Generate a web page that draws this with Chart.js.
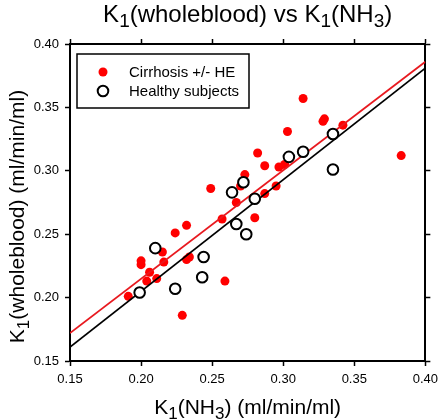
<!DOCTYPE html>
<html>
<head>
<meta charset="utf-8">
<script src="https://cdn.jsdelivr.net/npm/chart.js@4/dist/chart.umd.min.js"></script>
<style>
  html, body { margin: 0; padding: 0; background: #fff; }
</style>
</head>
<body>
<canvas id="k1Chart" width="444" height="420"></canvas>
<script>
// values
const cirrhosisX = [0.191, 0.200, 0.200, 0.206, 0.204, 0.211, 0.215, 0.216, 0.224, 0.232, 0.232,
  0.234, 0.229, 0.257, 0.259, 0.267, 0.249, 0.273, 0.270, 0.280, 0.287, 0.295, 0.287, 0.297,
  0.301, 0.282, 0.303, 0.314, 0.328, 0.329, 0.342, 0.383];
const cirrhosisY = [0.201, 0.229, 0.226, 0.220, 0.213, 0.215, 0.236, 0.228, 0.251, 0.257, 0.230,
  0.232, 0.186, 0.262, 0.213, 0.275, 0.286, 0.297, 0.288, 0.263, 0.282, 0.288, 0.304, 0.303,
  0.305, 0.314, 0.331, 0.357, 0.339, 0.341, 0.336, 0.312];

const healthyX = [0.199, 0.210, 0.224, 0.244, 0.243, 0.267, 0.274, 0.264, 0.272, 0.280, 0.304,
  0.314, 0.335, 0.335];
const healthyY = [0.204, 0.239, 0.207, 0.232, 0.216, 0.258, 0.250, 0.283, 0.291, 0.278, 0.311,
  0.315, 0.329, 0.301];

// regression lines (end points at the axis limits)
const cirrhosisFitX = [0.15, 0.40];
const cirrhosisFitY = [0.172, 0.386];
const healthyFitX = [0.15, 0.40];
const healthyFitY = [0.161, 0.381];

const xTicks = [0.15, 0.20, 0.25, 0.30, 0.35, 0.40];
const yTicks = [0.15, 0.20, 0.25, 0.30, 0.35, 0.40];

const legendLabels = ["Cirrhosis +/- HE", "Healthy subjects"];

const toPoints = (xs, ys) => xs.map((x, i) => ({ x: x, y: ys[i] }));

const FONT = "Arial, 'Liberation Sans', Helvetica, sans-serif";
const RED = '#ff0000';

// draws text like K1(NH3) with smaller lowered digits
const drawRich = (ctx, parts, size) => {
  const subSize = Math.round(size * 0.8);
  let total = 0;
  parts.forEach(p => {
    ctx.font = (p.sub ? subSize : size) + 'px ' + FONT;
    total += ctx.measureText(p.t).width;
  });
  let x = -total / 2;
  parts.forEach(p => {
    ctx.font = (p.sub ? subSize : size) + 'px ' + FONT;
    ctx.fillText(p.t, x, p.sub ? size * 0.22 : 0);
    x += ctx.measureText(p.t).width;
  });
};

const titlePlugin = {
  id: 'richTitles',
  afterDraw(chart) {
    const ctx = chart.ctx;
    const area = chart.chartArea;
    const cx = (area.left + area.right) / 2;
    const cy = (area.top + area.bottom) / 2;
    ctx.save();
    ctx.fillStyle = '#000';
    ctx.textBaseline = 'alphabetic';
    ctx.textAlign = 'left';

    ctx.save();
    ctx.translate(cx, 22);
    drawRich(ctx, [{ t: 'K' }, { t: '1', sub: true }, { t: '(wholeblood) vs K' }, { t: '1', sub: true },
      { t: '(NH' }, { t: '3', sub: true }, { t: ')' }], 24);
    ctx.restore();

    ctx.save();
    ctx.translate(cx, 414);
    drawRich(ctx, [{ t: 'K' }, { t: '1', sub: true }, { t: '(NH' }, { t: '3', sub: true },
      { t: ') (ml/min/ml)' }], 21);
    ctx.restore();

    ctx.save();
    ctx.translate(24, cy + 14);
    ctx.rotate(-Math.PI / 2);
    drawRich(ctx, [{ t: 'K' }, { t: '1', sub: true }, { t: '(wholeblood) (ml/min/ml)' }], 21);
    ctx.restore();

    ctx.restore();
  }
};

const legendPlugin = {
  id: 'boxLegend',
  afterDraw(chart) {
    const ctx = chart.ctx;
    const area = chart.chartArea;
    const left = area.left + 7;
    const top = area.top + 10;
    ctx.save();
    ctx.strokeStyle = '#000';
    ctx.lineWidth = 1.5;
    ctx.strokeRect(left, top, 172, 54);
    ctx.font = '15px ' + FONT;
    ctx.textBaseline = 'middle';
    ctx.fillStyle = '#000';
    const sets = [chart.data.datasets[3], chart.data.datasets[0]];
    sets.forEach((ds, i) => {
      const y = top + 18 + i * 19;
      ctx.beginPath();
      ctx.arc(left + 26, y, ds.pointRadius, 0, Math.PI * 2);
      ctx.fillStyle = ds.backgroundColor;
      ctx.fill();
      if (ds.borderWidth) {
        ctx.lineWidth = ds.borderWidth;
        ctx.strokeStyle = ds.borderColor;
        ctx.stroke();
      }
      ctx.fillStyle = '#000';
      ctx.fillText(legendLabels[i], left + 52, y + 1);
    });
    ctx.restore();
  }
};

const axisBase = (pos, ticks) => ({
  type: 'linear',
  position: pos,
  min: 0.15,
  max: 0.40,
  afterBuildTicks: (scale) => { scale.ticks = ticks.map(v => ({ value: v })); },
  grid: { drawOnChartArea: false, tickLength: 5, tickWidth: 1.5, tickColor: '#000' },
  border: { color: '#000', width: 2 },
});

const k1Chart = new Chart(document.getElementById('k1Chart'), {
  type: 'scatter',
  data: {
    datasets: [
      {
        label: legendLabels[1],
        data: toPoints(healthyX, healthyY),
        pointRadius: 5.3,
        backgroundColor: '#ffffff',
        borderColor: '#000000',
        borderWidth: 2,
        order: 0,
      },
      {
        type: 'line',
        label: 'Healthy fit',
        data: toPoints(healthyFitX, healthyFitY),
        borderColor: '#000000',
        borderWidth: 1.8,
        pointRadius: 0,
        fill: false,
        order: 1,
      },
      {
        type: 'line',
        label: 'Cirrhosis fit',
        data: toPoints(cirrhosisFitX, cirrhosisFitY),
        borderColor: '#e8191f',
        borderWidth: 1.8,
        pointRadius: 0,
        fill: false,
        order: 2,
      },
      {
        label: legendLabels[0],
        data: toPoints(cirrhosisX, cirrhosisY),
        pointRadius: 4.5,
        backgroundColor: RED,
        borderWidth: 0,
        order: 3,
      },
    ],
  },
  options: {
    responsive: false,
    animation: false,
    layout: { padding: 0 },
    plugins: {
      legend: { display: false },
      title: { display: false },
      tooltip: { enabled: false },
    },
    scales: {
      x: {
        ...axisBase('bottom', xTicks),
        ticks: {
          color: '#000',
          font: { family: FONT, size: 13 },
          padding: 6,
          maxRotation: 0,
          callback: (v) => v.toFixed(2),
        },
        afterFit: (scale) => { scale.height = 59; },
      },
      y: {
        ...axisBase('left', yTicks),
        ticks: {
          color: '#000',
          font: { family: FONT, size: 13 },
          padding: 6,
          callback: (v) => v.toFixed(2),
        },
        afterFit: (scale) => { scale.width = 70; },
      },
      x2: {
        ...axisBase('top', xTicks),
        ticks: { display: false },
        afterFit: (scale) => { scale.height = 44; },
      },
      y2: {
        ...axisBase('right', yTicks),
        ticks: { display: false },
        afterFit: (scale) => { scale.width = 14; },
      },
    },
  },
  plugins: [titlePlugin, legendPlugin],
});
</script>
</body>
</html>
